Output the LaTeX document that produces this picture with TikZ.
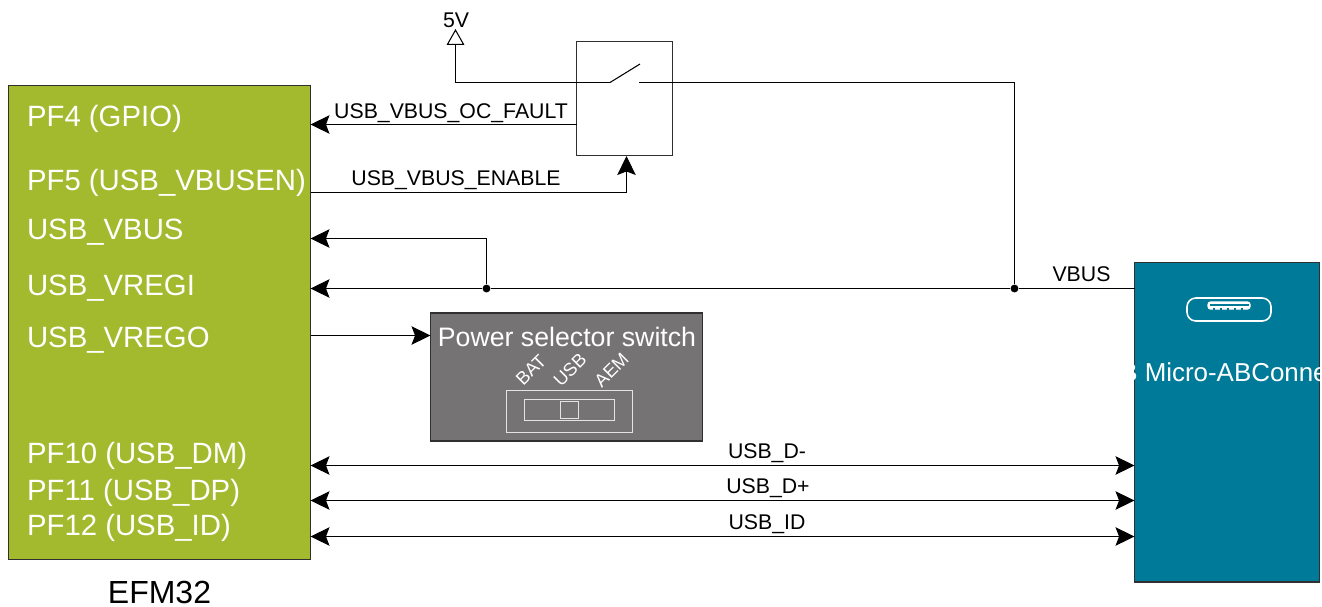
\documentclass[tikz,border=0pt]{standalone}
\usepackage{fontspec}
\setmainfont{Liberation Sans}
\usetikzlibrary{arrows.meta}
\definecolor{efmgreen}{HTML}{A3BA2E}
\definecolor{usbteal}{HTML}{007A99}
\definecolor{switchgray}{HTML}{767374}
\definecolor{edgegray}{HTML}{303030}
\definecolor{framegray}{HTML}{E4E4E4}

\begin{document}
\begin{tikzpicture}[x=0.02cm,y=-0.02cm,line width=0.6pt,
    >={Stealth[length=10.8pt,width=10.5pt,inset=2pt]},
    block/.style={rectangle,draw=edgegray,inner sep=0pt},
    pin/.style={anchor=west,inner sep=0pt,text=white,font=\fontsize{16.7}{18}\selectfont},
    signal/.style={inner sep=0pt,font=\fontsize{12.1}{14}\selectfont},
    tiny/.style={inner sep=0pt,text=white,rotate=45,font=\fontsize{10.4}{12}\selectfont},
    dot/.style={circle,fill=black,inner sep=0pt,minimum size=4.5pt}]
    \useasboundingbox (0,0) rectangle (1322,606);

    \node at (159.5,322.5) [block,fill=efmgreen,minimum width=6.04cm,minimum height=9.5cm] (efm) {};
    \node at (624.5,98.5) [block,minimum width=1.92cm,minimum height=2.28cm] (load) {};
    \node at (566.5,377) [block,fill=switchgray,minimum width=5.44cm,minimum height=2.56cm] (selector) {};
    \node at (1227,422) [block,fill=usbteal,minimum width=3.7cm,minimum height=6.4cm] (usb) {};

    \node at (26.5,119) [pin] (pf4) {PF4 (GPIO)};
    \node at (26.5,183) [pin] (pf5) {PF5 (USB\_VBUSEN)};
    \node at (26.5,232) [pin] (vbus) {USB\_VBUS};
    \node at (26.5,288) [pin] (vregi) {USB\_VREGI};
    \node at (26.5,340) [pin] (vrego) {USB\_VREGO};
    \node at (26.5,456) [pin] (pf10) {PF10 (USB\_DM)};
    \node at (26.5,493) [pin] (pf11) {PF11 (USB\_DP)};
    \node at (26.5,528) [pin] (pf12) {PF12 (USB\_ID)};
    \node at (159.5,592) [inner sep=0pt,font=\fontsize{18.2}{20}\selectfont] (efmname) {EFM32};

    % pads on the blocks
    \coordinate (faultL) at (310.5,124.5);
    \coordinate (faultR) at (577,124.5);
    \coordinate (enableL) at (310.5,192.5);
    \coordinate (enableB) at (626.5,192.5);
    \coordinate (enableT) at (626.5,156);
    \coordinate (vbusL) at (310.5,238.5);
    \coordinate (vregiL) at (310.5,288.5);
    \coordinate (vregoL) at (310.5,335.5);
    \coordinate (vregoR) at (430.5,335.5);
    \coordinate (busR) at (1135,288.5);
    \coordinate (supply) at (455.5,82.5);
    \coordinate (supplyT) at (455.5,29);
    \coordinate (blade) at (610,82.5);
    \coordinate (bladeT) at (640,64);
    \coordinate (contact) at (639,82.5);
    \coordinate (corner) at (1014.5,82.5);
    \node at (486.5,288.5) [dot] (j1) {};
    \node at (1014.5,288.5) [dot] (j2) {};
    \coordinate (j1T) at (486.5,238.5);

    \draw[-{Triangle[open,length=9pt,width=10pt]}] (blade) -- (supply) -- (supplyT);
    \draw (blade) -- (bladeT);
    \draw (contact) -- (corner) -- (j2);
    \draw[->] (faultR) -- (faultL);
    \draw[->] (enableL) -- (enableB) -- (enableT);
    \draw[->] (j1) -- (j1T) -- (vbusL);
    \draw[->] (busR) -- (j2) -- (j1) -- (vregiL);
    \draw[->] (vregoL) -- (vregoR);

    \coordinate (dmL) at (310.5,465.5);
    \coordinate (dmR) at (1134.5,465.5);
    \coordinate (dpL) at (310.5,500.5);
    \coordinate (dpR) at (1134.5,500.5);
    \coordinate (idL) at (310.5,536.5);
    \coordinate (idR) at (1134.5,536.5);
    \draw[<->] (dmL) -- (dmR);
    \draw[<->] (dpL) -- (dpR);
    \draw[<->] (idL) -- (idR);

    \node at (456,20) [signal] (fivev) {5V};
    \node at (451,113) [signal] (faultlabel) {USB\_VBUS\_OC\_FAULT};
    \node at (456,180) [signal] (enablelabel) {USB\_VBUS\_ENABLE};
    \node at (1081.5,274) [signal] (vbuslabel) {VBUS};
    \node at (767,453) [signal] (dmlabel) {USB\_D-};
    \node at (768,488) [signal] (dplabel) {USB\_D+};
    \node at (767,524) [signal] (idlabel) {USB\_ID};

    % selector
    \node at (567,337) [inner sep=0pt,text=white,font=\fontsize{15.2}{18}\selectfont] (selname) {Power selector switch};
    \node at (531,370) [tiny] (bat) {BAT};
    \node at (570,370) [tiny] (usbpos) {USB};
    \node at (611.5,370) [tiny] (aem) {AEM};
    \node at (569,411) [rectangle,draw=framegray,line width=0.5pt,minimum width=2.52cm,minimum height=0.84cm] (frame) {};
    \node at (569,410) [rectangle,draw=framegray,line width=0.5pt,minimum width=1.8cm,minimum height=0.42cm] (slot) {};
    \node at (569,410) [rectangle,draw=framegray,line width=0.5pt,minimum width=0.36cm,minimum height=0.34cm] (knob) {};

    % connector
    \node at (1229,309.5) [rectangle,draw=white,line width=0.9pt,rounded corners=5pt,minimum width=1.68cm,minimum height=0.46cm] (socket) {};
    \draw[white,fill=white,line width=0.7pt,rounded corners=1.5pt] (1208,302) rectangle (1250,309);
    \fill[usbteal] (1209.5,303.5) rectangle (1248.5,305.5);
    \foreach \x in {1214,1221,1228,1235,1242}
        \draw[usbteal,line width=0.8pt] (\x,307.5) -- (\x,310);
    \node at (1227.6,372) [inner sep=0pt,text=white,font=\fontsize{14.75}{18}\selectfont] (usbname) {USB Micro-ABConnector};
\end{tikzpicture}
\end{document}
